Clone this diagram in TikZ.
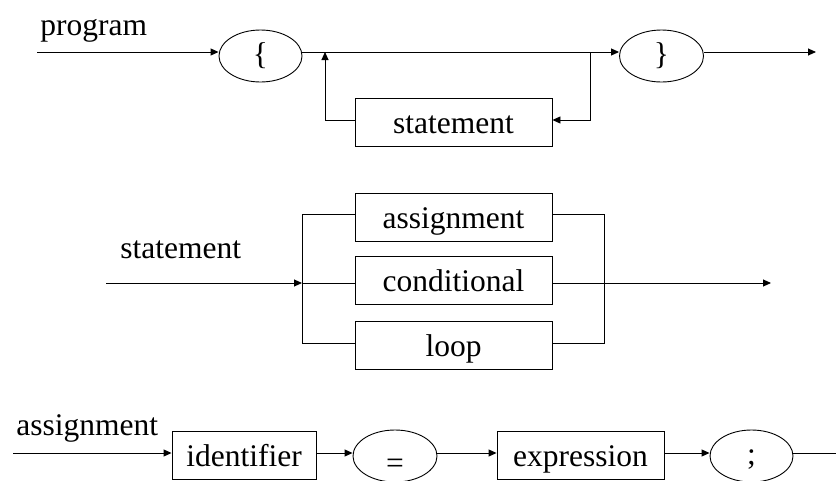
\documentclass[tikz,border=0pt]{standalone}
\usepackage{fontspec}
\setmainfont{Liberation Serif}
\usetikzlibrary{shapes.geometric,arrows.meta}
\begin{document}
\begin{tikzpicture}[x=1pt,y=-1pt,line width=0.9pt,
  every node/.style={font=\fontsize{31.5}{36}\selectfont},
  arr/.style={-{Triangle[length=8pt,width=7pt]}},
  term/.style={draw,rectangle,inner sep=0pt,minimum height=48pt,
               text height=35pt,text depth=13pt},
  lit/.style={draw,ellipse,inner sep=0pt,minimum width=84pt,minimum height=52pt},
  lbl/.style={anchor=base west,inner sep=0pt}]
\useasboundingbox (0,0) rectangle (836,480);

% ---- program ----
\node[lbl] (progL) at (40,35) {program};
\coordinate (p0) at (37,52);
\node[lit,minimum width=83pt] (lb) at (260.5,56) {\{};
\node[lit] (rb) at (661.5,56) {\}};
\coordinate (p1) at (816,52);
\node[term,minimum width=197pt] (stm) at (453.5,122) {statement};
\coordinate (jl) at (325,52);
\coordinate (jr) at (590,52);
\coordinate (lr) at (0,120);

\draw[arr] (p0) -- (p0 -| lb.west);
\draw[arr] (lb.east |- p0) -- (rb.west |- p0);
\draw[arr] (rb.east |- p0) -- (p1);
\draw[arr] (jr) -- (jr |- lr) -- (stm.east |- lr);
\draw[arr] (stm.west |- lr) -- (jl |- lr) -- (jl);

% ---- statement ----
\node[lbl] (stL) at (120,258) {statement};
\coordinate (s0) at (106,283);
\coordinate (sl) at (302,283);
\coordinate (sr) at (604,283);
\coordinate (s1) at (771,283);
\coordinate (ra) at (0,214);
\coordinate (rc) at (0,343);
\node[term,minimum width=197pt] (asg) at (453.5,217.5) {assignment};
\node[term,minimum width=197pt] (cnd) at (453.5,280.5) {conditional};
\node[term,minimum width=197pt] (lop) at (453.5,345) {loop};

\draw[arr] (s0) -- (sl);
\draw (asg.west |- ra) -| (sl |- rc) -- (lop.west |- rc);
\draw (sl) -- (cnd.west |- sl);
\draw (asg.east |- ra) -| (sr |- rc) -- (lop.east |- rc);
\draw[arr] (cnd.east |- sl) -- (s1);

% ---- assignment ----
\node[lbl] (asL) at (16,435) {assignment};
\coordinate (a0) at (13,453);
\node[term,minimum width=144pt] (idf) at (244,455) {identifier};
\node[lit] (eq) at (395,456) {};
\node[inner sep=0pt] (eqt) at (395,466) {=};
\node[term,minimum width=167pt] (expr) at (580.5,455) {expression};
\node[lit,minimum width=83pt] (sc) at (751.5,456) {};
\node[inner sep=0pt] (sct) at (751.5,460) {;};
\coordinate (a1) at (836,453);

\draw[arr] (a0) -- (a0 -| idf.west);
\draw[arr] (idf.east |- a0) -- (eq.west |- a0);
\draw[arr] (eq.east |- a0) -- (expr.west |- a0);
\draw[arr] (expr.east |- a0) -- (sc.west |- a0);
\draw (sc.east |- a0) -- (a1);
\end{tikzpicture}
\end{document}
